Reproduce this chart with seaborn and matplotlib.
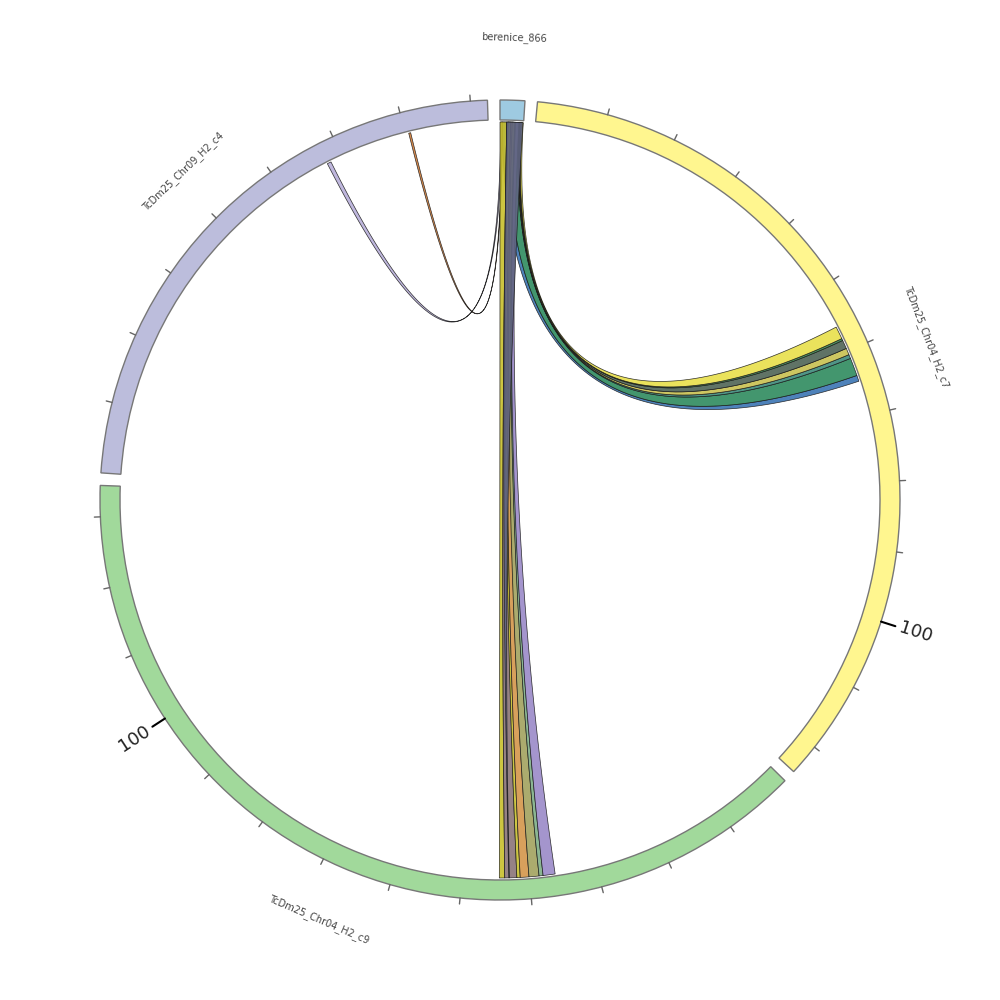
"""
Chord diagram of alignments between berenice_866 and three TcDm25 contigs.
"""
import numpy as np
import matplotlib
matplotlib.use('Agg')
import matplotlib.pyplot as plt
from matplotlib.patches import Polygon, Wedge
import seaborn as sns

# Segments (clockwise from the top), lengths in kb
SEGMENTS = ['berenice_866', 'TcDm25_Chr04_H2_c7', 'TcDm25_Chr04_H2_c9', 'TcDm25_Chr09_H2_c4']
LENGTHS = [3.5, 124.5, 134.4, 82.4]
SEG_COLORS = ['#9ecae1', '#fff68f', '#a1d99b', '#bcbddc']

# Links: all start on berenice_866 (drawn in this order)
LINK_SRC_START = [0.10, 0.30,
                  0.40, 1.20, 2.80, 2.90, 3.00, 3.15, 3.20,
                  0.00, 1.00, 1.20, 1.60, 1.80, 2.20, 2.30, 1.00]
LINK_SRC_END = [0.30, 0.40,
                1.20, 2.80, 2.90, 3.00, 3.15, 3.20, 3.45,
                1.00, 2.00, 1.60, 2.20, 2.40, 2.60, 2.80, 3.40]
LINK_TGT = ['TcDm25_Chr09_H2_c4', 'TcDm25_Chr09_H2_c4',
            'TcDm25_Chr04_H2_c7', 'TcDm25_Chr04_H2_c7', 'TcDm25_Chr04_H2_c7',
            'TcDm25_Chr04_H2_c7', 'TcDm25_Chr04_H2_c7', 'TcDm25_Chr04_H2_c7',
            'TcDm25_Chr04_H2_c7',
            'TcDm25_Chr04_H2_c9', 'TcDm25_Chr04_H2_c9', 'TcDm25_Chr04_H2_c9',
            'TcDm25_Chr04_H2_c9', 'TcDm25_Chr04_H2_c9', 'TcDm25_Chr04_H2_c9',
            'TcDm25_Chr04_H2_c9', 'TcDm25_Chr04_H2_c9']
LINK_TGT_START = [57.6, 70.5,
                  63.9, 61.2, 60.6, 59.6, 58.3, 58.0, 56.1,
                  43.7, 41.9, 41.4, 40.1, 38.6, 38.0, 36.2, 43.0]
LINK_TGT_END = [58.2, 70.8,
                64.8, 63.9, 61.2, 60.6, 59.6, 58.3, 58.0,
                44.5, 43.7, 41.9, 41.4, 40.1, 38.6, 38.0, 43.1]
LINK_COLORS = ['#b8b0da', '#d8803a',
               '#3b75b3', '#2e8b5e', '#3d8a7a', '#c8c050', '#4f6455', '#3a8a50',
               '#e8df4a',
               '#c8bf2c', '#8b7478', '#c8c030', '#d4964a', '#a2a25e',
               '#7fae86', '#9a8ac8', '#5f6480']

sns.set_style('white')

GAP = 1.8
SCALE = (360 - GAP * len(SEGMENTS)) / sum(LENGTHS)
R_IN, R_OUT, R_LINK = 380, 400, 378

# start angle (degrees, counter-clockwise from +x) of each segment
SEG_START = {}
a = 90.0
for name, length in zip(SEGMENTS, LENGTHS):
    SEG_START[name] = a
    a -= length * SCALE + GAP


def pos_angle(name, u):
    return SEG_START[name] - u * SCALE


def point(angle, r):
    t = np.radians(angle)
    return np.array([r * np.cos(t), r * np.sin(t)])


def arc(a0, a1, r, n=40):
    t = np.radians(np.linspace(a0, a1, n))
    return np.column_stack([r * np.cos(t), r * np.sin(t)])


def bezier(p0, p1, n=80):
    t = np.linspace(0, 1, n)[:, None]
    return (1 - t) ** 2 * p0 + t ** 2 * p1  # control point at the centre


fig = plt.figure(figsize=(10, 10), dpi=100)
ax = fig.add_axes([0, 0, 1, 1])
ax.set_xlim(-500, 500)
ax.set_ylim(-500, 500)
ax.set_aspect('equal')
ax.axis('off')

# ring segments
for name, length, col in zip(SEGMENTS, LENGTHS, SEG_COLORS):
    a0 = SEG_START[name]
    a1 = pos_angle(name, length)
    ax.add_patch(Wedge((0, 0), R_OUT, a1, a0, width=R_OUT - R_IN,
                       facecolor=col, edgecolor='#777777', linewidth=1))

    # ticks every 10 kb, labelled at 100
    for v in range(10, int(length) + 1, 10):
        ang = pos_angle(name, v)
        if v % 100 == 0:
            p0, p1 = point(ang, R_OUT), point(ang, R_OUT + 15)
            ax.plot([p0[0], p1[0]], [p0[1], p1[1]], color='black', lw=1.5)
            pl = point(ang, R_OUT + 19)
            if -90 <= ang <= 90:
                ax.text(pl[0], pl[1], str(v), rotation=ang, ha='left', va='center',
                        rotation_mode='anchor', fontsize=13, color='#222222')
            else:
                ax.text(pl[0], pl[1], str(v), rotation=ang + 180, ha='right', va='center',
                        rotation_mode='anchor', fontsize=13, color='#222222')
        else:
            p0, p1 = point(ang, R_OUT), point(ang, R_OUT + 6)
            ax.plot([p0[0], p1[0]], [p0[1], p1[1]], color='#666666', lw=1)

    # segment name, tangential
    mid = (a0 + a1) / 2
    rot = (mid - 90) % 360
    if rot > 180:
        rot -= 360
    if rot > 90:
        rot -= 180
    elif rot < -90:
        rot += 180
    r_lab = 463 if length < 10 else 457
    pl = point(mid, r_lab)
    ax.text(pl[0], pl[1], name, rotation=rot, ha='center', va='center',
            rotation_mode='anchor', fontsize=7, color='#444444')

# ribbons
SRC = SEGMENTS[0]
for s0, s1, tgt, t0, t1, col in zip(LINK_SRC_START, LINK_SRC_END, LINK_TGT,
                                    LINK_TGT_START, LINK_TGT_END, LINK_COLORS):
    a0, a1 = pos_angle(SRC, s0), pos_angle(SRC, s1)
    b0, b1 = pos_angle(tgt, t0), pos_angle(tgt, t1)
    pts = np.vstack([
        arc(a0, a1, R_LINK),
        bezier(point(a1, R_LINK), point(b0, R_LINK)),
        arc(b0, b1, R_LINK),
        bezier(point(b1, R_LINK), point(a0, R_LINK)),
    ])
    ax.add_patch(Polygon(pts, closed=True, facecolor=col, edgecolor='#1a1a1a',
                         linewidth=0.5, alpha=0.9))

fig.savefig('out.png', dpi=100)
